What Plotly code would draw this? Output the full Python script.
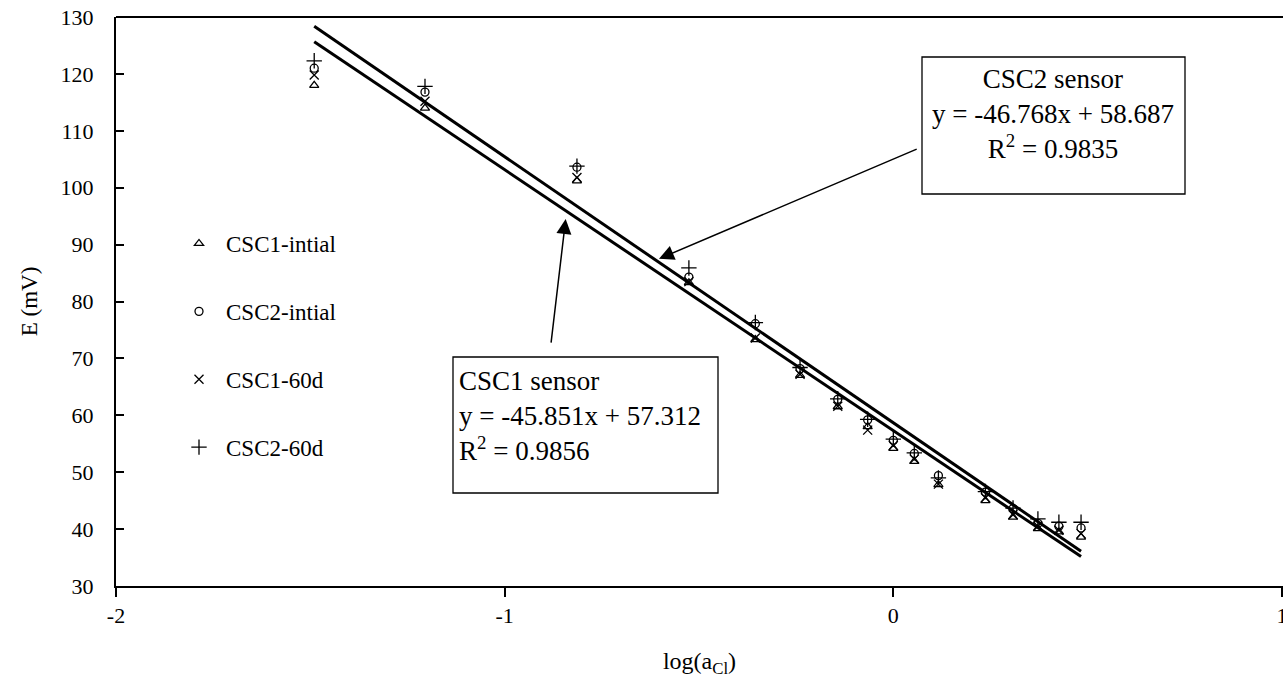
import plotly.graph_objects as go
import numpy as np

# ---- data ----
log_a = [-1.49, -1.205, -0.814, -0.526, -0.355, -0.24, -0.143, -0.066, 0.0, 0.054, 0.116, 0.237, 0.308, 0.372, 0.426, 0.483]
csc1_initial = [118.0, 114.0, 101.2, 83.3, 73.3, 67.0, 61.5, 58.0, 54.2, 51.9, 47.8, 45.0, 42.1, 40.1, 39.5, 38.6]
csc2_initial = [121.0, 116.8, 103.6, 84.3, 76.1, 68.2, 62.8, 59.2, 55.6, 53.3, 49.4, 46.5, 43.6, 41.0, 40.5, 40.2]
csc1_60d = [119.8, 115.2, 101.8, 83.5, 73.6, 67.2, 61.6, 57.4, 54.7, 52.3, 47.9, 45.5, 42.5, 40.5, 39.8, 39.2]
csc2_60d = [122.3, 117.8, 103.8, 85.9, 76.3, 68.4, 62.9, 59.3, 55.8, 53.4, 49.0, 46.6, 43.7, 41.8, 41.2, 41.2]

series_names = ["CSC1-intial", "CSC2-intial", "CSC1-60d", "CSC2-60d"]
series_values = [csc1_initial, csc2_initial, csc1_60d, csc2_60d]

fit_names = ["CSC1 sensor", "CSC2 sensor"]
fit_slope = [-45.851, -46.768]
fit_intercept = [57.312, 58.687]
fit_r2 = ["0.9856", "0.9835"]

# callout arrows: (tail x, tail y) -> (tip x, tip y), in data units
arrow_x = [[-0.881, -0.843], [0.064, -0.603]]
arrow_y = [[72.5, 94.5], [106.9, 87.5]]

x_ticks = [-2, -1, 0, 1]
y_ticks = [30, 40, 50, 60, 70, 80, 90, 100, 110, 120, 130]

FONT = "Liberation Serif"
W, H = 1283, 682
ML, MR, MT, MB = 116, 0, 17, 96
X_MAX = 1.0026   # places x = 1 at the last pixel column, as in the cropped reference

symbols = ["triangle-up-open", "circle-open", "x-thin-open", "cross-thin-open"]
sizes = [8, 8, 9, 11]

fig = go.Figure()
for i, (nm, vals) in enumerate(zip(series_names, series_values)):
    fig.add_trace(go.Scatter(
        x=log_a, y=vals, mode="markers", name=nm,
        legendgroup=nm,
        marker=dict(symbol=symbols[i], size=sizes[i], color="black",
                    line=dict(color="black", width=1.3)),
    ))

xfit = np.array([min(log_a), max(log_a)])
for s, b in zip(fit_slope, fit_intercept):
    fig.add_trace(go.Scatter(x=xfit, y=s * xfit + b, mode="lines",
                             line=dict(color="black", width=3),
                             showlegend=False, hoverinfo="skip"))

pw = W - ML - MR
ph = H - MT - MB


def px(xp):
    return (xp - ML) / pw


def py(yp):
    return (H - MB - yp) / ph


# top frame line
fig.add_shape(type="line", xref="paper", yref="paper", x0=0, x1=1, y0=1, y1=1,
              line=dict(color="black", width=2))

# text boxes
boxes = [
    dict(x0=453, x1=718, y0=357, y1=493),   # CSC1
    dict(x0=922, x1=1185, y0=57, y1=194),   # CSC2
]
for bx in boxes:
    fig.add_shape(type="rect", xref="paper", yref="paper",
                  x0=px(bx["x0"]), x1=px(bx["x1"]), y0=py(bx["y1"]), y1=py(bx["y0"]),
                  line=dict(color="black", width=1.3), fillcolor="white", layer="above")

box_text = [f"{n}<br>y = {s}x + {b}<br>R<sup>2</sup> = {r}"
            for n, s, b, r in zip(fit_names, fit_slope, fit_intercept, fit_r2)]
fig.add_annotation(xref="paper", yref="paper", x=px(457), y=py(416), xanchor="left", yanchor="middle",
                   align="left", text=box_text[0], showarrow=False,
                   font=dict(family=FONT, size=27, color="black"))
fig.add_annotation(xref="paper", yref="paper", x=px(1053), y=py(114), xanchor="center", yanchor="middle",
                   align="center", text=box_text[1], showarrow=False,
                   font=dict(family=FONT, size=27, color="black"))

# callout arrows
for axs, ays in zip(arrow_x, arrow_y):
    fig.add_annotation(x=axs[1], y=ays[1], ax=axs[0], ay=ays[0],
                       xref="x", yref="y", axref="x", ayref="y",
                       text="", showarrow=True, arrowhead=2, arrowsize=2, arrowwidth=1.5,
                       arrowcolor="black")

fig.update_layout(
    width=W, height=H,
    margin=dict(l=ML, r=MR, t=MT, b=MB, autoexpand=False),
    paper_bgcolor="white", plot_bgcolor="white",
    font=dict(family=FONT, size=22, color="black"),
    showlegend=True,
    legend=dict(x=px(172), y=py(222), xanchor="left", yanchor="top",
                bgcolor="rgba(0,0,0,0)", font=dict(family=FONT, size=23, color="black"),
                tracegroupgap=35, itemwidth=44),
    xaxis=dict(range=[-2, X_MAX], tickvals=x_ticks, ticktext=[str(t) for t in x_ticks],
               showgrid=False, zeroline=False, showline=True, linecolor="black", linewidth=2,
               mirror=False, ticks="outside", ticklen=9, tickwidth=1.5, tickcolor="black",
               ticklabeloverflow="allow",
               title=dict(text="log(a<sub>Cl</sub>)", font=dict(family=FONT, size=24, color="black"),
                          standoff=25),
               tickfont=dict(family=FONT, size=22, color="black")),
    yaxis=dict(range=[30, 130], tickvals=y_ticks,
               showgrid=False, zeroline=False, showline=True, linecolor="black", linewidth=2,
               ticks="inside", ticklen=8, tickwidth=1.5, tickcolor="black",
               ticklabelstandoff=16,
               title=dict(text="E (mV)", font=dict(family=FONT, size=23, color="black"), standoff=17),
               tickfont=dict(family=FONT, size=22, color="black")),
)

fig.write_html("out.html")
